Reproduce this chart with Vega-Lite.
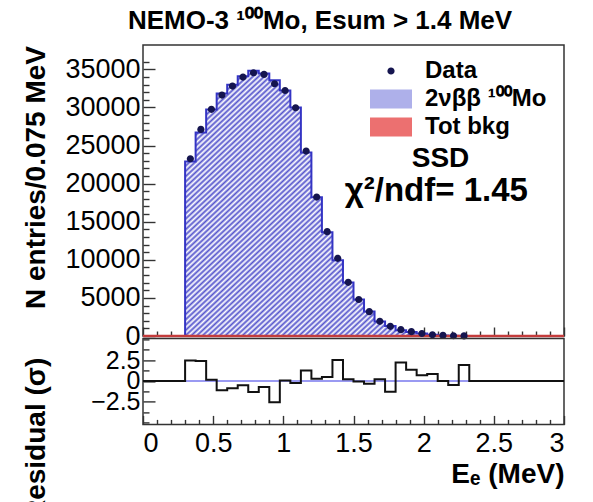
{
  "$schema": "https://vega.github.io/schema/vega-lite/v6.json",
  "padding": {"left": 21, "top": 8, "right": 5, "bottom": 0},
  "background": "white",
  "title": {"text": "NEMO-3 ¹⁰⁰Mo, Esum > 1.4 MeV", "font": "Liberation Sans", "fontSize": 26, "fontWeight": "bold", "color": "#000", "anchor": "middle", "dx": 25, "offset": 10},
  "spacing": 2.4,
  "bounds": "flush",
  "datasets": {
    "bins": [
      {"e": 0, "fit": 0, "res": 0},
      {"e": 0.3, "mid": 0.3375, "n": 23270, "fit": 22895, "res": 2.46},
      {"e": 0.375, "mid": 0.4125, "n": 27120, "fit": 26728, "res": 2.38},
      {"e": 0.45, "mid": 0.4875, "n": 29750, "fit": 29724, "res": 0.15},
      {"e": 0.525, "mid": 0.5625, "n": 31630, "fit": 31826, "res": -1.1},
      {"e": 0.6, "mid": 0.6375, "n": 32810, "fit": 32968, "res": -0.87},
      {"e": 0.675, "mid": 0.7125, "n": 33990, "fit": 34082, "res": -0.5},
      {"e": 0.75, "mid": 0.7875, "n": 34560, "fit": 34807, "res": -1.33},
      {"e": 0.825, "mid": 0.8625, "n": 34340, "fit": 34472, "res": -0.71},
      {"e": 0.9, "mid": 0.9375, "n": 33110, "fit": 33574, "res": -2.55},
      {"e": 0.975, "mid": 1.0125, "n": 32230, "fit": 32221, "res": 0.05},
      {"e": 1.05, "mid": 1.0875, "n": 29960, "fit": 30003, "res": -0.25},
      {"e": 1.125, "mid": 1.1625, "n": 24270, "fit": 24072, "res": 1.27},
      {"e": 1.2, "mid": 1.2375, "n": 18240, "fit": 18202, "res": 0.28},
      {"e": 1.275, "mid": 1.3125, "n": 13690, "fit": 13634, "res": 0.48},
      {"e": 1.35, "mid": 1.3875, "n": 10190, "fit": 9938, "res": 2.5},
      {"e": 1.425, "mid": 1.4625, "n": 7050, "fit": 7033, "res": 0.2},
      {"e": 1.5, "mid": 1.5375, "n": 4790, "fit": 4793, "res": -0.05},
      {"e": 1.575, "mid": 1.6125, "n": 3190, "fit": 3208, "res": -0.32},
      {"e": 1.65, "mid": 1.6875, "n": 1925, "fit": 1916, "res": 0.2},
      {"e": 1.725, "mid": 1.7625, "n": 1270, "fit": 1316, "res": -1.3},
      {"e": 1.8, "mid": 1.8375, "n": 830, "fit": 767, "res": 2.2},
      {"e": 1.875, "mid": 1.9125, "n": 570, "fit": 538, "res": 1.35},
      {"e": 1.95, "mid": 1.9875, "n": 330, "fit": 317, "res": 0.7},
      {"e": 2.025, "mid": 2.0625, "n": 165, "fit": 154, "res": 0.85},
      {"e": 2.1, "mid": 2.1375, "n": 80, "fit": 80, "res": 0},
      {"e": 2.175, "mid": 2.2125, "n": 35, "fit": 38, "res": -0.48},
      {"e": 2.25, "mid": 2.2875, "n": 15, "fit": 8, "res": 1.9},
      {"e": 2.325, "fit": 0, "res": 0},
      {"e": 3, "fit": 0, "res": 0}
    ]
  },
  "config": {
    "font": "Liberation Sans",
    "view": {"stroke": "#333", "strokeWidth": 1.5},
    "axis": {"domain": false, "grid": false, "tickCount": 1000, "labelFont": "Liberation Sans", "labelFontSize": 27, "labelColor": "#000", "labelOverlap": false, "tickColor": "#333", "tickWidth": 1.4, "titleFont": "Liberation Sans", "titleFontSize": 28, "titleFontWeight": "bold", "titleColor": "#000"}
  },
  "vconcat": [
    {
      "width": 421,
      "height": 291,
      "data": {"name": "bins"},
      "layer": [
        {
          "transform": [{"filter": "datum.e >= 0.29 && datum.e <= 2.33"}],
          "mark": {"type": "area", "interpolate": "step-after", "fill": {"gradient": "linear", "x1": 0, "y1": 0, "x2": 1, "y2": 1, "stops": [
            {"offset": 0, "color": "#55c"}, {"offset": 0.005, "color": "#fff"}, {"offset": 0.01, "color": "#55c"}, {"offset": 0.015, "color": "#fff"}, {"offset": 0.02, "color": "#55c"}, {"offset": 0.025, "color": "#fff"}, {"offset": 0.03, "color": "#55c"}, {"offset": 0.035, "color": "#fff"}, {"offset": 0.04, "color": "#55c"}, {"offset": 0.045, "color": "#fff"},
            {"offset": 0.05, "color": "#55c"}, {"offset": 0.055, "color": "#fff"}, {"offset": 0.06, "color": "#55c"}, {"offset": 0.065, "color": "#fff"}, {"offset": 0.07, "color": "#55c"}, {"offset": 0.075, "color": "#fff"}, {"offset": 0.08, "color": "#55c"}, {"offset": 0.085, "color": "#fff"}, {"offset": 0.09, "color": "#55c"}, {"offset": 0.095, "color": "#fff"},
            {"offset": 0.1, "color": "#55c"}, {"offset": 0.105, "color": "#fff"}, {"offset": 0.11, "color": "#55c"}, {"offset": 0.115, "color": "#fff"}, {"offset": 0.12, "color": "#55c"}, {"offset": 0.125, "color": "#fff"}, {"offset": 0.13, "color": "#55c"}, {"offset": 0.135, "color": "#fff"}, {"offset": 0.14, "color": "#55c"}, {"offset": 0.145, "color": "#fff"},
            {"offset": 0.15, "color": "#55c"}, {"offset": 0.155, "color": "#fff"}, {"offset": 0.16, "color": "#55c"}, {"offset": 0.165, "color": "#fff"}, {"offset": 0.17, "color": "#55c"}, {"offset": 0.175, "color": "#fff"}, {"offset": 0.18, "color": "#55c"}, {"offset": 0.185, "color": "#fff"}, {"offset": 0.19, "color": "#55c"}, {"offset": 0.195, "color": "#fff"},
            {"offset": 0.2, "color": "#55c"}, {"offset": 0.205, "color": "#fff"}, {"offset": 0.21, "color": "#55c"}, {"offset": 0.215, "color": "#fff"}, {"offset": 0.22, "color": "#55c"}, {"offset": 0.225, "color": "#fff"}, {"offset": 0.23, "color": "#55c"}, {"offset": 0.235, "color": "#fff"}, {"offset": 0.24, "color": "#55c"}, {"offset": 0.245, "color": "#fff"},
            {"offset": 0.25, "color": "#55c"}, {"offset": 0.255, "color": "#fff"}, {"offset": 0.26, "color": "#55c"}, {"offset": 0.265, "color": "#fff"}, {"offset": 0.27, "color": "#55c"}, {"offset": 0.275, "color": "#fff"}, {"offset": 0.28, "color": "#55c"}, {"offset": 0.285, "color": "#fff"}, {"offset": 0.29, "color": "#55c"}, {"offset": 0.295, "color": "#fff"},
            {"offset": 0.3, "color": "#55c"}, {"offset": 0.305, "color": "#fff"}, {"offset": 0.31, "color": "#55c"}, {"offset": 0.315, "color": "#fff"}, {"offset": 0.32, "color": "#55c"}, {"offset": 0.325, "color": "#fff"}, {"offset": 0.33, "color": "#55c"}, {"offset": 0.335, "color": "#fff"}, {"offset": 0.34, "color": "#55c"}, {"offset": 0.345, "color": "#fff"},
            {"offset": 0.35, "color": "#55c"}, {"offset": 0.355, "color": "#fff"}, {"offset": 0.36, "color": "#55c"}, {"offset": 0.365, "color": "#fff"}, {"offset": 0.37, "color": "#55c"}, {"offset": 0.375, "color": "#fff"}, {"offset": 0.38, "color": "#55c"}, {"offset": 0.385, "color": "#fff"}, {"offset": 0.39, "color": "#55c"}, {"offset": 0.395, "color": "#fff"},
            {"offset": 0.4, "color": "#55c"}, {"offset": 0.405, "color": "#fff"}, {"offset": 0.41, "color": "#55c"}, {"offset": 0.415, "color": "#fff"}, {"offset": 0.42, "color": "#55c"}, {"offset": 0.425, "color": "#fff"}, {"offset": 0.43, "color": "#55c"}, {"offset": 0.435, "color": "#fff"}, {"offset": 0.44, "color": "#55c"}, {"offset": 0.445, "color": "#fff"},
            {"offset": 0.45, "color": "#55c"}, {"offset": 0.455, "color": "#fff"}, {"offset": 0.46, "color": "#55c"}, {"offset": 0.465, "color": "#fff"}, {"offset": 0.47, "color": "#55c"}, {"offset": 0.475, "color": "#fff"}, {"offset": 0.48, "color": "#55c"}, {"offset": 0.485, "color": "#fff"}, {"offset": 0.49, "color": "#55c"}, {"offset": 0.495, "color": "#fff"},
            {"offset": 0.5, "color": "#55c"}, {"offset": 0.505, "color": "#fff"}, {"offset": 0.51, "color": "#55c"}, {"offset": 0.515, "color": "#fff"}, {"offset": 0.52, "color": "#55c"}, {"offset": 0.525, "color": "#fff"}, {"offset": 0.53, "color": "#55c"}, {"offset": 0.535, "color": "#fff"}, {"offset": 0.54, "color": "#55c"}, {"offset": 0.545, "color": "#fff"},
            {"offset": 0.55, "color": "#55c"}, {"offset": 0.555, "color": "#fff"}, {"offset": 0.56, "color": "#55c"}, {"offset": 0.565, "color": "#fff"}, {"offset": 0.57, "color": "#55c"}, {"offset": 0.575, "color": "#fff"}, {"offset": 0.58, "color": "#55c"}, {"offset": 0.585, "color": "#fff"}, {"offset": 0.59, "color": "#55c"}, {"offset": 0.595, "color": "#fff"},
            {"offset": 0.6, "color": "#55c"}, {"offset": 0.605, "color": "#fff"}, {"offset": 0.61, "color": "#55c"}, {"offset": 0.615, "color": "#fff"}, {"offset": 0.62, "color": "#55c"}, {"offset": 0.625, "color": "#fff"}, {"offset": 0.63, "color": "#55c"}, {"offset": 0.635, "color": "#fff"}, {"offset": 0.64, "color": "#55c"}, {"offset": 0.645, "color": "#fff"},
            {"offset": 0.65, "color": "#55c"}, {"offset": 0.655, "color": "#fff"}, {"offset": 0.66, "color": "#55c"}, {"offset": 0.665, "color": "#fff"}, {"offset": 0.67, "color": "#55c"}, {"offset": 0.675, "color": "#fff"}, {"offset": 0.68, "color": "#55c"}, {"offset": 0.685, "color": "#fff"}, {"offset": 0.69, "color": "#55c"}, {"offset": 0.695, "color": "#fff"},
            {"offset": 0.7, "color": "#55c"}, {"offset": 0.705, "color": "#fff"}, {"offset": 0.71, "color": "#55c"}, {"offset": 0.715, "color": "#fff"}, {"offset": 0.72, "color": "#55c"}, {"offset": 0.725, "color": "#fff"}, {"offset": 0.73, "color": "#55c"}, {"offset": 0.735, "color": "#fff"}, {"offset": 0.74, "color": "#55c"}, {"offset": 0.745, "color": "#fff"},
            {"offset": 0.75, "color": "#55c"}, {"offset": 0.755, "color": "#fff"}, {"offset": 0.76, "color": "#55c"}, {"offset": 0.765, "color": "#fff"}, {"offset": 0.77, "color": "#55c"}, {"offset": 0.775, "color": "#fff"}, {"offset": 0.78, "color": "#55c"}, {"offset": 0.785, "color": "#fff"}, {"offset": 0.79, "color": "#55c"}, {"offset": 0.795, "color": "#fff"},
            {"offset": 0.8, "color": "#55c"}, {"offset": 0.805, "color": "#fff"}, {"offset": 0.81, "color": "#55c"}, {"offset": 0.815, "color": "#fff"}, {"offset": 0.82, "color": "#55c"}, {"offset": 0.825, "color": "#fff"}, {"offset": 0.83, "color": "#55c"}, {"offset": 0.835, "color": "#fff"}, {"offset": 0.84, "color": "#55c"}, {"offset": 0.845, "color": "#fff"},
            {"offset": 0.85, "color": "#55c"}, {"offset": 0.855, "color": "#fff"}, {"offset": 0.86, "color": "#55c"}, {"offset": 0.865, "color": "#fff"}, {"offset": 0.87, "color": "#55c"}, {"offset": 0.875, "color": "#fff"}, {"offset": 0.88, "color": "#55c"}, {"offset": 0.885, "color": "#fff"}, {"offset": 0.89, "color": "#55c"}, {"offset": 0.895, "color": "#fff"},
            {"offset": 0.9, "color": "#55c"}, {"offset": 0.905, "color": "#fff"}, {"offset": 0.91, "color": "#55c"}, {"offset": 0.915, "color": "#fff"}, {"offset": 0.92, "color": "#55c"}, {"offset": 0.925, "color": "#fff"}, {"offset": 0.93, "color": "#55c"}, {"offset": 0.935, "color": "#fff"}, {"offset": 0.94, "color": "#55c"}, {"offset": 0.945, "color": "#fff"},
            {"offset": 0.95, "color": "#55c"}, {"offset": 0.955, "color": "#fff"}, {"offset": 0.96, "color": "#55c"}, {"offset": 0.965, "color": "#fff"}, {"offset": 0.97, "color": "#55c"}, {"offset": 0.975, "color": "#fff"}, {"offset": 0.98, "color": "#55c"}, {"offset": 0.985, "color": "#fff"}, {"offset": 0.99, "color": "#55c"}, {"offset": 0.995, "color": "#fff"},
            {"offset": 1, "color": "#55c"}
          ]}},
          "encoding": {
            "x": {"field": "e", "type": "quantitative", "scale": {"domain": [0, 3], "nice": false, "zero": false},
                  "axis": {"orient": "bottom", "title": null, "labels": false, "tickCount": 1000, "values": [0,0.1,0.2,0.3,0.4,0.5,0.6,0.7,0.8,0.9,1,1.1,1.2,1.3,1.4,1.5,1.6,1.7,1.8,1.9,2,2.1,2.2,2.3,2.4,2.5,2.6,2.7,2.8,2.9,3],
                           "tickSize": {"condition": {"test": "abs(datum.value*2-round(datum.value*2))<0.001", "value": -9}, "value": -5}, "minExtent": 0, "maxExtent": 0}},
            "y": {"field": "fit", "type": "quantitative", "scale": {"domain": [0, 38200], "nice": false},
                  "axis": {"title": "N entries/0.075 MeV", "titleY": 132, "titlePadding": 6, "format": "d", "labelOverlap": false, "tickCount": 1000,
                           "values": [0,1000,2000,3000,4000,5000,6000,7000,8000,9000,10000,11000,12000,13000,14000,15000,16000,17000,18000,19000,20000,21000,22000,23000,24000,25000,26000,27000,28000,29000,30000,31000,32000,33000,34000,35000,36000],
                           "labelExpr": "datum.value % 5000 == 0 ? datum.label : ''",
                           "tickSize": {"condition": {"test": "datum.value % 5000 == 0", "value": -12}, "value": -6},
                           "labelPadding": 15, "minExtent": 87, "maxExtent": 87}}
          }
        },
        {
          "mark": {"type": "line", "interpolate": "step-after", "color": "#3434c4", "strokeWidth": 2},
          "encoding": {
            "x": {"field": "e", "type": "quantitative"},
            "y": {"field": "fit", "type": "quantitative"}
          }
        },
        {
          "data": {"values": [{"v": 0}]},
          "mark": {"type": "rule", "color": "#c43c3c", "strokeWidth": 2.5},
          "encoding": {"y": {"field": "v", "type": "quantitative"}}
        },
        {
          "transform": [{"filter": "isValid(datum.n)"}],
          "mark": {"type": "point", "filled": true, "size": 900, "opacity": 1},
          "encoding": {
            "x": {"field": "mid", "type": "quantitative"},
            "y": {"field": "n", "type": "quantitative"},
            "fill": {"datum": "Data", "type": "nominal",
                     "scale": {"domain": ["Data", "2νββ ¹⁰⁰Mo", "Tot bkg"], "range": ["#15154f", "#aeb0ea", "#ec7070"]},
                     "legend": {"orient": "none", "legendX": 232, "legendY": 10, "title": null, "labelFont": "Liberation Sans", "labelFontSize": 24, "labelFontWeight": "bold", "labelColor": "#000", "labelOffset": 18, "symbolSize": 900, "symbolStrokeColor": "#222", "symbolStrokeWidth": 1.2, "rowPadding": 0, "symbolOpacity": 1}},
            "shape": {"datum": "Data", "type": "nominal",
                      "scale": {"domain": ["Data", "2νββ ¹⁰⁰Mo", "Tot bkg"], "range": ["M-0.24,0A0.24,0.24,0,1,1,0.24,0A0.24,0.24,0,1,1,-0.24,0Z", "M-1.4,-0.63H1.4V0.63H-1.4Z", "M-1.4,-0.63H1.4V0.63H-1.4Z"]},
                      "legend": {"orient": "none", "legendX": 232, "legendY": 10, "title": null, "labelFont": "Liberation Sans", "labelFontSize": 24, "labelFontWeight": "bold", "labelColor": "#000", "labelOffset": 18, "symbolSize": 900, "symbolStrokeColor": "#222", "symbolStrokeWidth": 1.2, "rowPadding": 0, "symbolOpacity": 1}}
          }
        },
        {
          "data": {"values": [{"label": "SSD"}]},
          "mark": {"type": "text", "font": "Liberation Sans", "fontSize": 28, "fontWeight": "bold", "color": "#000", "align": "center", "baseline": "middle"},
          "encoding": {"text": {"field": "label"}, "x": {"datum": 2.12}, "y": {"datum": 23200}}
        },
        {
          "data": {"values": [{"label": "χ²/ndf=   1.45"}]},
          "mark": {"type": "text", "font": "Liberation Sans", "fontSize": 33, "fontWeight": "bold", "color": "#000", "align": "center", "baseline": "middle"},
          "encoding": {"text": {"field": "label"}, "x": {"datum": 2.09}, "y": {"datum": 19070}}
        }
      ]
    },
    {
      "width": 421,
      "height": 86,
      "data": {"name": "bins"},
      "layer": [
        {
          "data": {"values": [{"v": 0}]},
          "mark": {"type": "rule", "color": "#7878ee", "strokeWidth": 1.5},
          "encoding": {"y": {"field": "v", "type": "quantitative", "axis": {"title": "Residual (σ)", "labelOverlap": false}}}
        },
        {
          "mark": {"type": "line", "interpolate": "step-after", "color": "#111", "strokeWidth": 2},
          "encoding": {
            "x": {"field": "e", "type": "quantitative", "scale": {"domain": [0, 3], "nice": false, "zero": false},
                  "axis": {"orient": "bottom", "title": "Eₑ (MeV)", "titleAnchor": "end", "titlePadding": 0, "format": "~g", "labelPadding": 15, "labelOverlap": false, "tickCount": 1000,
                           "values": [0,0.1,0.2,0.3,0.4,0.5,0.6,0.7,0.8,0.9,1,1.1,1.2,1.3,1.4,1.5,1.6,1.7,1.8,1.9,2,2.1,2.2,2.3,2.4,2.5,2.6,2.7,2.8,2.9,3],
                           "labelExpr": "abs(datum.value*2-round(datum.value*2))<0.001 ? datum.label : ''",
                           "tickSize": {"condition": {"test": "abs(datum.value*2-round(datum.value*2))<0.001", "value": -9}, "value": -5}}},
            "y": {"field": "res", "type": "quantitative", "scale": {"domain": [-5.2, 5.1], "nice": false, "zero": false},
                  "axis": {"title": "Residual (σ)", "titleY": 100, "titlePadding": 6, "format": "~g", "labelOverlap": false, "tickCount": 1000, "labelFontSize": 25,
                           "values": [-5, -3.75, -2.5, -1.25, 0, 1.25, 2.5, 3.75, 5],
                           "labelExpr": "abs(datum.value) == 2.5 || datum.value == 0 ? datum.label : ''",
                           "tickSize": {"condition": {"test": "abs(datum.value) == 2.5 || datum.value == 0", "value": -12}, "value": -6},
                           "labelPadding": 15, "minExtent": 87, "maxExtent": 87}}
          }
        }
      ]
    }
  ]
}
